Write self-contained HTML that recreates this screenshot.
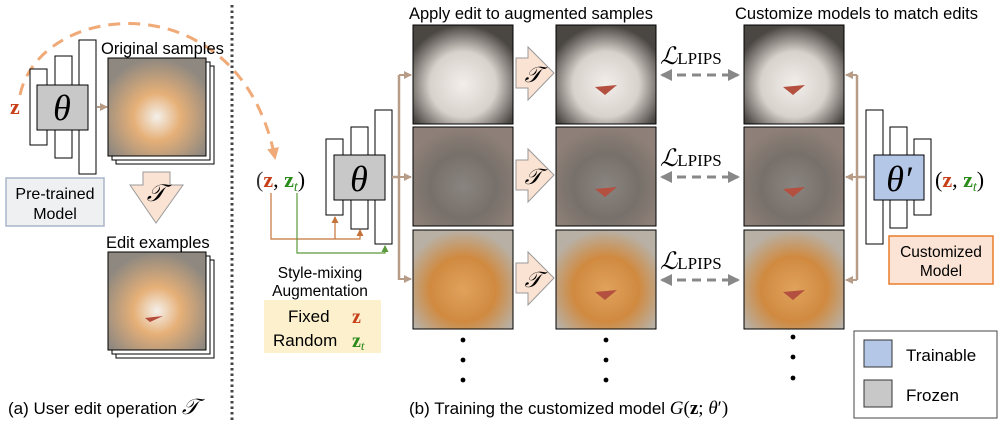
<!DOCTYPE html>
<html><head><meta charset="utf-8"><style>
body{margin:0;background:#fff;}
svg text{font-family:"Liberation Sans",sans-serif;}
.s{font-family:"Liberation Serif",serif;}
</style></head><body>
<svg width="1005" height="423" viewBox="0 0 1005 423" xmlns="http://www.w3.org/2000/svg">
<defs>
<radialGradient id="cw" cx="50%" cy="60%" r="60%"><stop offset="0" stop-color="#f2eeea"/><stop offset="0.55" stop-color="#d8d2cc"/><stop offset="1" stop-color="#4a4642"/></radialGradient>
<radialGradient id="cg" cx="50%" cy="60%" r="60%"><stop offset="0" stop-color="#8a8480"/><stop offset="0.55" stop-color="#77706a"/><stop offset="1" stop-color="#8e8078"/></radialGradient>
<radialGradient id="co" cx="50%" cy="60%" r="60%"><stop offset="0" stop-color="#e0a25c"/><stop offset="0.55" stop-color="#d08a40"/><stop offset="1" stop-color="#b8b0a4"/></radialGradient>
<radialGradient id="cl" cx="50%" cy="60%" r="60%"><stop offset="0" stop-color="#f4f0ea"/><stop offset="0.4" stop-color="#e6b078"/><stop offset="1" stop-color="#8e8880"/></radialGradient>
<marker id="at" markerUnits="userSpaceOnUse" markerWidth="8" markerHeight="8" refX="7" refY="4" orient="auto"><path d="M0,0L8,4L0,8z" fill="#b79c88"/></marker>
<marker id="ao" markerUnits="userSpaceOnUse" markerWidth="7" markerHeight="7" refX="6" refY="3.5" orient="auto"><path d="M0,0L7,3.5L0,7z" fill="#c5733a"/></marker>
<marker id="ag" markerUnits="userSpaceOnUse" markerWidth="7" markerHeight="7" refX="6" refY="3.5" orient="auto"><path d="M0,0L7,3.5L0,7z" fill="#5a9a3a"/></marker>
<marker id="ap" markerUnits="userSpaceOnUse" markerWidth="12" markerHeight="12" refX="10" refY="6" orient="auto"><path d="M0,0L12,6L0,12z" fill="#f0aa78"/></marker>
<marker id="ad" markerUnits="userSpaceOnUse" markerWidth="12" markerHeight="12" refX="10" refY="6" orient="auto"><path d="M0,0L12,6L0,12z" fill="#888"/></marker>
<marker id="ads" markerUnits="userSpaceOnUse" markerWidth="12" markerHeight="12" refX="2" refY="6" orient="auto"><path d="M12,0L0,6L12,12z" fill="#888"/></marker>
</defs>

<!-- left panel -->
<path d="M20,95 C40,0 240,-20 275,158" fill="none" stroke="#f0aa78" stroke-width="3" stroke-dasharray="12,8" marker-end="url(#ap)"/>
<text x="10" y="114" class="s" font-size="22" font-weight="bold" fill="#c8401a">z</text>
<rect x="30" y="69" width="17" height="76" fill="#fff" stroke="#000"/>
<rect x="55" y="56" width="17" height="102" fill="#fff" stroke="#000"/>
<rect x="79" y="40" width="17" height="134" fill="#fff" stroke="#000"/>
<rect x="37" y="85" width="51" height="45" fill="#c8c8c8" stroke="#000"/>
<text x="62" y="120" class="s" font-size="36" font-style="italic" text-anchor="middle">θ</text>
<line x1="97" y1="107" x2="107" y2="107" stroke="#b79c88" stroke-width="2" marker-end="url(#at)"/>
<text x="101" y="54" font-size="16.5">Original samples</text>
<rect x="116" y="66" width="98" height="98" fill="#fff" stroke="#000"/>
<rect x="112" y="62" width="98" height="98" fill="#fff" stroke="#000"/>
<rect x="108" y="58" width="98" height="98" fill="url(#cl)" stroke="#000"/>
<rect x="6" y="178" width="98" height="48" fill="#eff0f2" stroke="#a9b6c8" stroke-width="1.5"/>
<text x="55" y="199" font-size="16" text-anchor="middle">Pre-trained</text>
<text x="55" y="219" font-size="16" text-anchor="middle">Model</text>
<path d="M143,172H170V185H183L156,223L130,185H143Z" fill="#fae3d3" stroke="#999"/>
<text x="156" y="201" class="s" font-size="24" font-style="italic" text-anchor="middle">𝒯</text>
<text x="106" y="248" font-size="16.5">Edit examples</text>
<rect x="116" y="260" width="98" height="98" fill="#fff" stroke="#000"/>
<rect x="112" y="256" width="98" height="98" fill="#fff" stroke="#000"/>
<rect x="108" y="252" width="98" height="98" fill="url(#cl)" stroke="#000"/>
<path d="M145,318 L163,316 L150,322 Z" fill="#b44a3a"/>
<text x="8" y="414" font-size="17">(a) User edit operation <tspan class="s" font-style="italic" font-size="22">𝒯</tspan></text>
<line x1="232" y1="5" x2="232" y2="420" stroke="#444" stroke-width="3" stroke-dasharray="2.5,3"/>

<!-- middle -->
<text x="256" y="187" class="s" font-size="22"><tspan fill="#333">(</tspan><tspan fill="#c8401a" font-weight="bold">z</tspan><tspan>, </tspan><tspan fill="#2a8a1a" font-weight="bold">z</tspan><tspan fill="#2a8a1a" font-style="italic" font-size="14" dy="4">t</tspan><tspan dy="-4">)</tspan></text>
<rect x="326" y="139" width="17" height="76" fill="#fff" stroke="#000"/>
<rect x="351" y="127" width="17" height="102" fill="#fff" stroke="#000"/>
<rect x="375" y="110" width="17" height="134" fill="#fff" stroke="#000"/>
<rect x="334" y="155" width="51" height="45" fill="#c8c8c8" stroke="#000"/>
<text x="359" y="191" class="s" font-size="36" font-style="italic" text-anchor="middle">θ</text>
<path d="M271,193V239H360V230" fill="none" stroke="#c5733a" stroke-width="1.2" marker-end="url(#ao)"/>
<path d="M335,239V217" fill="none" stroke="#c5733a" stroke-width="1.2" marker-end="url(#ao)"/>
<path d="M297,193V253H385V246" fill="none" stroke="#5a9a3a" stroke-width="1.2" marker-end="url(#ag)"/>
<text x="320" y="278" font-size="15.5" text-anchor="middle">Style-mixing</text>
<text x="320" y="296" font-size="15.5" text-anchor="middle">Augmentation</text>
<rect x="264" y="300" width="117" height="53" fill="#fdf0cc"/>
<text x="288" y="322" font-size="17">Fixed</text>
<text x="352" y="323" class="s" font-size="20" font-weight="bold" fill="#c8401a">z</text>
<text x="273" y="346" font-size="17">Random</text>
<text x="352" y="347" class="s" font-size="20" font-weight="bold" fill="#2a8a1a">z<tspan font-style="italic" font-weight="normal" font-size="13" dy="3">t</tspan></text>
<path d="M392,177H399M399,75V280" fill="none" stroke="#b79c88" stroke-width="2.5"/>
<line x1="399" y1="75" x2="411" y2="75" stroke="#b79c88" stroke-width="2" marker-end="url(#at)"/>
<line x1="399" y1="177" x2="411" y2="177" stroke="#b79c88" stroke-width="2" marker-end="url(#at)"/>
<line x1="399" y1="279" x2="411" y2="279" stroke="#b79c88" stroke-width="2" marker-end="url(#at)"/>

<text x="409" y="19" font-size="16.5">Apply edit to augmented samples</text>
<text x="735" y="19" font-size="16.5">Customize models to match edits</text>

<g stroke="#000">
<rect x="413" y="25" width="100" height="99" fill="url(#cw)"/>
<rect x="413" y="127" width="100" height="99" fill="url(#cg)"/>
<rect x="413" y="230" width="100" height="99" fill="url(#co)"/>
<rect x="556" y="25" width="100" height="99" fill="url(#cw)"/>
<rect x="556" y="127" width="100" height="99" fill="url(#cg)"/>
<rect x="556" y="230" width="100" height="99" fill="url(#co)"/>
<rect x="744" y="25" width="100" height="99" fill="url(#cw)"/>
<rect x="744" y="127" width="100" height="99" fill="url(#cg)"/>
<rect x="744" y="230" width="100" height="99" fill="url(#co)"/>
</g>
<g fill="#b45040">
<path d="M595,87L617,85L605,95Z"/><path d="M595,189L617,187L605,197Z"/><path d="M595,292L617,290L605,300Z"/>
<path d="M783,87L805,85L793,95Z"/><path d="M783,189L805,187L793,197Z"/><path d="M783,292L805,290L793,300Z"/>
</g>
<g fill="#fae3d3" stroke="#999">
<path d="M516,58H528V47L554,73L528,100V88H516Z"/>
<path d="M516,160H528V149L554,175L528,202V190H516Z"/>
<path d="M516,263H528V252L554,278L528,305V293H516Z"/>
</g>
<g class="s" font-size="22" font-style="italic" text-anchor="middle">
<text x="533" y="82" class="s">𝒯</text><text x="533" y="184" class="s">𝒯</text><text x="533" y="287" class="s">𝒯</text>
</g>
<g class="s">
<text x="660" y="64" font-size="24" font-style="italic" class="s">ℒ<tspan font-style="normal" font-size="17">LPIPS</tspan></text>
<text x="660" y="166" font-size="24" font-style="italic" class="s">ℒ<tspan font-style="normal" font-size="17">LPIPS</tspan></text>
<text x="660" y="269" font-size="24" font-style="italic" class="s">ℒ<tspan font-style="normal" font-size="17">LPIPS</tspan></text>
</g>
<g stroke="#888" stroke-width="3" stroke-dasharray="9,6" marker-end="url(#ad)" marker-start="url(#ads)">
<line x1="662" y1="75" x2="738" y2="75"/><line x1="662" y1="177" x2="738" y2="177"/><line x1="662" y1="280" x2="738" y2="280"/>
</g>
<g fill="#000">
<circle cx="463" cy="340" r="2.4"/><circle cx="463" cy="360" r="2.4"/><circle cx="463" cy="380" r="2.4"/>
<circle cx="606" cy="340" r="2.4"/><circle cx="606" cy="360" r="2.4"/><circle cx="606" cy="380" r="2.4"/>
<circle cx="793" cy="337" r="2.4"/><circle cx="793" cy="357" r="2.4"/><circle cx="793" cy="378" r="2.4"/>
</g>
<text x="409" y="414" font-size="17">(b) Training the customized model <tspan class="s" font-style="italic" font-size="19">G</tspan><tspan class="s" font-size="19">(<tspan font-weight="bold">z</tspan>; <tspan font-style="italic">θ</tspan>′)</tspan></text>

<!-- right -->
<path d="M865,177H857M857,75V280" fill="none" stroke="#b79c88" stroke-width="2.5"/>
<line x1="857" y1="75" x2="846" y2="75" stroke="#b79c88" stroke-width="2" marker-end="url(#at)"/>
<line x1="857" y1="177" x2="846" y2="177" stroke="#b79c88" stroke-width="2" marker-end="url(#at)"/>
<line x1="857" y1="280" x2="846" y2="280" stroke="#b79c88" stroke-width="2" marker-end="url(#at)"/>
<rect x="866" y="110" width="17" height="134" fill="#fff" stroke="#000"/>
<rect x="890" y="127" width="17" height="101" fill="#fff" stroke="#000"/>
<rect x="914" y="139" width="17" height="76" fill="#fff" stroke="#000"/>
<rect x="874" y="155" width="50" height="45" fill="#b4c7e7" stroke="#000"/>
<text x="899" y="191" class="s" font-size="36" font-style="italic" text-anchor="middle">θ′</text>
<text x="935" y="187" class="s" font-size="22">(<tspan fill="#c8401a" font-weight="bold">z</tspan>, <tspan fill="#2a8a1a" font-weight="bold">z</tspan><tspan fill="#2a8a1a" font-style="italic" font-size="14" dy="4">t</tspan><tspan dy="-4">)</tspan></text>
<rect x="889" y="236" width="104" height="48" fill="#fbe3d5" stroke="#e87c2a" stroke-width="1.5"/>
<text x="941" y="257" font-size="15.5" text-anchor="middle">Customized</text>
<text x="941" y="276" font-size="15.5" text-anchor="middle">Model</text>
<rect x="854" y="331" width="143" height="87" fill="#fff" stroke="#444"/>
<rect x="864" y="340" width="28" height="27" fill="#b4c7e7" stroke="#333"/>
<rect x="864" y="380" width="28" height="27" fill="#c8c8c8" stroke="#333"/>
<text x="906" y="361" font-size="17">Trainable</text>
<text x="906" y="401" font-size="17">Frozen</text>
</svg>
</body></html>
